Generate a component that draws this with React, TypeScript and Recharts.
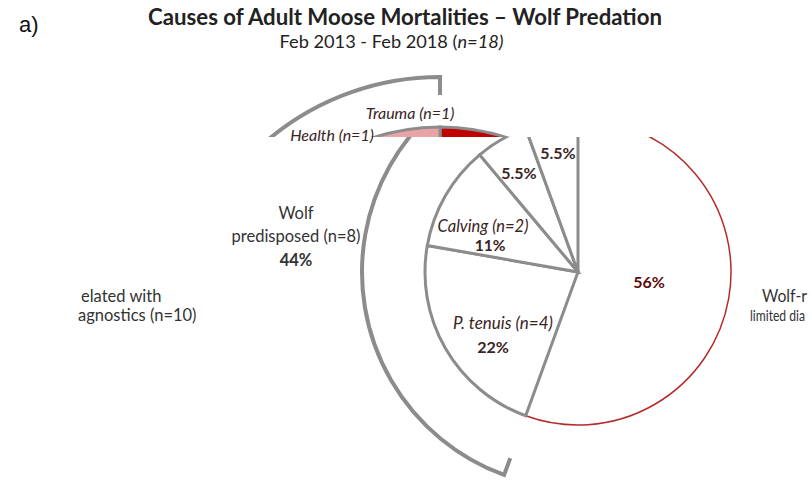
import { PieChart, Pie, Cell } from "recharts";

// inner pie: individual causes (n=18), drawn clockwise from 12 o'clock
const causeNames = ["Wolf-related, limited diagnostics", "P. tenuis", "Calving", "Trauma", "Health"];
const causeCounts = [10, 4, 2, 1, 1];

// outer bracket: the two groups
const groupNames = ["Wolf-related with limited diagnostics", "Wolf predisposed"];
const groupCounts = [10, 8];

const inner = causeNames.map((name, i) => ({ name, value: causeCounts[i] }));
const outer = groupNames.map((name, i) => ({ name, value: groupCounts[i] }));

const GREY = "#8c8c8c";
const LABEL = "#3a2323";
const FONT = "Lato, 'Open Sans', sans-serif";
// colours of the upper (filled) copy of the pie
const upperFills = ["#c00000", "#ffffff", "#ffffff", "#ffffff", "#e8a4a4"];

const RAD = Math.PI / 180;
const pt = (cx: number, cy: number, r: number, a: number) => [cx + r * Math.cos(-a * RAD), cy + r * Math.sin(-a * RAD)];

// arc with inward ticks at both ends (a bracket round the group)
function Bracket(props: any) {
  const { cx, cy, innerRadius, outerRadius, startAngle, endAngle, fill } = props;
  if (fill === "none") return <g />;
  const [x1, y1] = pt(cx, cy, outerRadius, startAngle);
  const [x2, y2] = pt(cx, cy, outerRadius, endAngle);
  const [a1, b1] = pt(cx, cy, innerRadius, startAngle);
  const [a2, b2] = pt(cx, cy, innerRadius, endAngle);
  const large = Math.abs(endAngle - startAngle) > 180 ? 1 : 0;
  const sweep = startAngle > endAngle ? 1 : 0;
  return (
    <path
      d={`M${a1},${b1} L${x1},${y1} A${outerRadius},${outerRadius} 0 ${large} ${sweep} ${x2},${y2} L${a2},${b2}`}
      fill="none"
      stroke={GREY}
      strokeWidth={4}
    />
  );
}

function Layer({ cx, cy, r, ring, upper }: { cx: number; cy: number; r: number; ring: number; upper: boolean }) {
  return (
    <PieChart width={812} height={486} margin={{ top: 0, right: 0, bottom: 0, left: 0 }}>
      <Pie
        data={outer}
        dataKey="value"
        cx={cx}
        cy={cy}
        startAngle={90}
        endAngle={-270}
        innerRadius={ring - 18}
        outerRadius={ring}
        stroke="none"
        shape={Bracket}
        isAnimationActive={false}
      >
        {outer.map((d, i) => (
          <Cell key={d.name} fill={i === 0 ? "none" : GREY} />
        ))}
      </Pie>
      <Pie
        data={inner}
        dataKey="value"
        cx={cx}
        cy={cy}
        startAngle={90}
        endAngle={-270}
        outerRadius={r}
        isAnimationActive={false}
      >
        {inner.map((d, i) => (
          <Cell
            key={d.name}
            fill={upper ? upperFills[i] : "#fff"}
            stroke={upper ? GREY : i === 0 ? "#b52a2a" : GREY}
            strokeWidth={upper ? 3 : i === 0 ? 1.5 : 3}
          />
        ))}
      </Pie>
    </PieChart>
  );
}

export default function App() {
  return (
    <div style={{ position: "absolute", left: 0, top: 0, width: 812, height: 486, background: "#fff", fontFamily: FONT }}>
      {/* upper strip */}
      <div style={{ position: "absolute", left: 0, top: 0, width: 812, height: 137, overflow: "hidden" }}>
        <Layer cx={440} cy={344} r={217} ring={267} upper />
      </div>
      {/* lower part */}
      <div style={{ position: "absolute", left: 0, top: 137, width: 812, height: 349, overflow: "hidden" }}>
        <div style={{ position: "absolute", left: 0, top: -137 }}>
          <Layer cx={578} cy={272} r={153} ring={216} upper={false} />
        </div>
      </div>

      <div style={{ position: "absolute", left: 19, top: 12, fontFamily: "'Liberation Sans', Arial, sans-serif", fontSize: 22, color: "#111" }}>
        a)
      </div>
      <div style={{ position: "absolute", left: 0, width: 810, top: 3, textAlign: "center", fontSize: 22.2, fontWeight: 700, color: "#222" }}>
        Causes of Adult Moose Mortalities – Wolf Predation
      </div>
      <div style={{ position: "absolute", left: 0, width: 783, top: 30, textAlign: "center", fontSize: 18.2, color: "#222" }}>
        Feb 2013 - Feb 2018 (<i>n=18)</i>
      </div>

      <svg width={812} height={486} style={{ position: "absolute", left: 0, top: 0 }}>
        <g fontFamily={FONT} fontSize={16} fill={LABEL}>
          <text x={410} y={119} textAnchor="middle" fontStyle="italic">Trauma (n=1)</text>
          <text x={332} y={141} textAnchor="middle" fontStyle="italic">Health (n=1)</text>
          <text x={558} y={159} textAnchor="middle" fontWeight={700}>5.5%</text>
          <text x={519} y={179} textAnchor="middle" fontWeight={700}>5.5%</text>
          <text x={483} y={232} textAnchor="middle" fontStyle="italic" fontSize={16.5}>Calving (n=2)</text>
          <text x={490} y={251} textAnchor="middle" fontWeight={700} fontSize={15.5}>11%</text>
          <text x={503} y={329} textAnchor="middle" fontStyle="italic" fontSize={17}>P. tenuis (n=4)</text>
          <text x={493} y={353} textAnchor="middle" fontWeight={700}>22%</text>
          <text x={649} y={288} textAnchor="middle" fontWeight={700} fill="#5a0a0a">56%</text>
        </g>
        <g fontFamily={FONT} fontSize={16.5} fill="#333">
          <text x={296} y={219} textAnchor="middle">Wolf</text>
          <text x={296} y={242} textAnchor="middle">predisposed (n=8)</text>
          <text x={296} y={266} textAnchor="middle" fontWeight={700}>44%</text>
          <text x={81} y={302}>elated with</text>
          <text x={78} y={321}>agnostics (n=10)</text>
          <text x={762} y={302} textLength={45} lengthAdjust="spacingAndGlyphs">Wolf-r</text>
          <text x={750} y={321} fontSize={15} textLength={55} lengthAdjust="spacingAndGlyphs">limited dia</text>
        </g>
      </svg>
    </div>
  );
}
